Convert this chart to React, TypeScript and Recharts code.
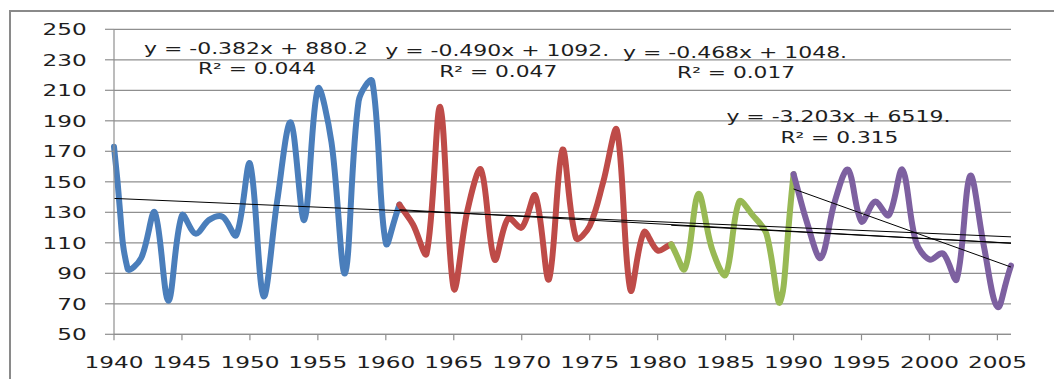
import React from 'react';
import { LineChart, Line, XAxis, YAxis, CartesianGrid, ReferenceDot } from 'recharts';

// ---- data ----
const blueYears = [1940, 1941, 1942, 1943, 1944, 1945, 1946, 1947, 1948, 1949, 1950, 1951, 1952, 1953, 1954, 1955, 1956, 1957, 1958, 1959, 1960, 1961];
const blueValues = [173, 93, 100, 130, 72, 128, 116, 125, 127, 115, 162, 75, 137, 189, 125, 211, 176, 90, 203, 216, 110, 135];

const redYears = [1961, 1962, 1963, 1964, 1965, 1966, 1967, 1968, 1969, 1970, 1971, 1972, 1973, 1974, 1975, 1976, 1977, 1978, 1979, 1980, 1981];
const redValues = [135, 122, 103, 199, 80, 131, 158, 99, 126, 120, 141, 86, 171, 113, 121, 150, 184, 79, 117, 105, 109];

const greenYears = [1981, 1982, 1983, 1984, 1985, 1986, 1987, 1988, 1989, 1990];
const greenValues = [109, 93, 142, 106, 89, 137, 128, 116, 71, 155];

const purpleYears = [1990, 1991, 1992, 1993, 1994, 1995, 1996, 1997, 1998, 1999, 2000, 2001, 2002, 2003, 2004, 2005, 2006];
const purpleValues = [155, 123, 100, 136, 158, 124, 137, 128, 158, 111, 99, 103, 86, 154, 108, 68, 95];

// trend lines (end points)
const trendBlueYears = [1940, 2006];
const trendBlueValues = [139.1, 113.9];
const trendRedYears = [1961, 2006];
const trendRedValues = [131.7, 109.7];
const trendGreenYears = [1981, 2006];
const trendGreenValues = [121.5, 109.8];
const trendPurpleYears = [1990, 2006];
const trendPurpleValues = [145.3, 94.1];

const xTicks = [1940, 1945, 1950, 1955, 1960, 1965, 1970, 1975, 1980, 1985, 1990, 1995, 2000, 2005];
const yTicks = [50, 70, 90, 110, 130, 150, 170, 190, 210, 230, 250];

const annEquations = ['y = -0.382x + 880.2', 'y = -0.490x + 1092.', 'y = -0.468x + 1048.', 'y = -3.203x + 6519.'];
const annR2 = ['R² = 0.044', 'R² = 0.047', 'R² = 0.017', 'R² = 0.315'];
const annYears = [1950.45, 1968.2, 1985.7, 1993.3];
const annValues = [237.9, 236.4, 235.3, 193.1];

const zip = (xs: number[], vs: number[]) => xs.map((year, i) => ({ year, v: vs[i] }));

const blueData = zip(blueYears, blueValues);
const redData = zip(redYears, redValues);
const greenData = zip(greenYears, greenValues);
const purpleData = zip(purpleYears, purpleValues);

// Excel-like smoothed line: Bezier with tangents parallel to neighbours,
// control distances weighted by chord length (screen space)
const excelSmooth = (context: any) => {
  let pts: number[][] = [];
  const dist = (a: number[], b: number[]) => Math.hypot(b[0] - a[0], b[1] - a[1]);
  return {
    areaStart() {},
    areaEnd() {},
    lineStart() {
      pts = [];
    },
    point(x: number, y: number) {
      pts.push([+x, +y]);
    },
    lineEnd() {
      const n = pts.length;
      if (!n) return;
      context.moveTo(pts[0][0], pts[0][1]);
      const t = 1 / 3;
      for (let i = 0; i < n - 1; i++) {
        const p0 = pts[Math.max(i - 1, 0)];
        const p1 = pts[i];
        const p2 = pts[i + 1];
        const p3 = pts[Math.min(i + 2, n - 1)];
        const d01 = dist(p0, p1);
        const d12 = dist(p1, p2);
        const d23 = dist(p2, p3);
        const f1 = d01 + d12 > 0 ? (d12 / (d01 + d12)) * t * (i === 0 ? 2 : 1) : 0;
        const f2 = d12 + d23 > 0 ? (d12 / (d12 + d23)) * t * (i + 2 > n - 1 ? 2 : 1) : 0;
        context.bezierCurveTo(
          p1[0] + (p2[0] - p0[0]) * f1,
          p1[1] + (p2[1] - p0[1]) * f1,
          p2[0] - (p3[0] - p1[0]) * f2,
          p2[1] - (p3[1] - p1[1]) * f2,
          p2[0],
          p2[1]
        );
      }
    },
  };
};

const FONT = '"DejaVu Sans", Verdana, sans-serif';
const TEXT = '#1e1e1e';
const GRID = '#8f8f8f';

const XTick = (props: any) => {
  const { x, y, payload } = props;
  return (
    <text x={x} y={y + 26} textAnchor="middle" fontFamily={FONT} fontSize={16} fill={TEXT} textLength={59} lengthAdjust="spacingAndGlyphs">
      {payload.value}
    </text>
  );
};

const YTick = (props: any) => {
  const { x, y, payload } = props;
  const s = String(payload.value);
  return (
    <text x={x} y={y + 5.8} textAnchor="end" fontFamily={FONT} fontSize={16} fill={TEXT} textLength={s.length * 14.7} lengthAdjust="spacingAndGlyphs">
      {s}
    </text>
  );
};

const Ann = (props: any) => {
  const { viewBox, eq, r2 } = props;
  const cx = viewBox.x + (viewBox.width || 0) / 2;
  const cy = viewBox.y + (viewBox.height || 0) / 2;
  return (
    <g>
      <text x={cx} y={cy + 5.8} textAnchor="middle" fontFamily={FONT} fontSize={16} fill={TEXT} textLength={224} lengthAdjust="spacingAndGlyphs">
        {eq}
      </text>
      <text x={cx + 1} y={cy + 5.8 + 20.8} textAnchor="middle" fontFamily={FONT} fontSize={16} fill={TEXT} textLength={118} lengthAdjust="spacingAndGlyphs">
        {r2}
      </text>
    </g>
  );
};

const seriesColors = ['#4a7ebb', '#be4b48', '#98b954', '#7d60a0'];

export default function App() {
  const series = [blueData, redData, greenData, purpleData];
  const trends = [
    zip(trendBlueYears, trendBlueValues),
    zip(trendRedYears, trendRedValues),
    zip(trendGreenYears, trendGreenValues),
    zip(trendPurpleYears, trendPurpleValues),
  ];
  return (
    <div style={{ position: 'relative', width: 1046, height: 371 }}>
      <div
        style={{
          position: 'absolute',
          left: 1,
          top: 2,
          right: -20,
          bottom: -20,
          borderTop: '2px solid #8a8a8a',
          borderLeft: '2px solid #8a8a8a',
          pointerEvents: 'none',
          boxSizing: 'border-box',
        }}
      />
      <div style={{ position: 'absolute', left: 0, top: 0 }}>
        <LineChart width={1046} height={371} margin={{ top: 21.3, right: 43, bottom: 4.7, left: 0 }}>
          <CartesianGrid horizontal vertical={false} stroke={GRID} strokeWidth={1.2} />
          <XAxis
            dataKey="year"
            type="number"
            domain={[1940, 2006]}
            ticks={xTicks}
            interval={0}
            height={40}
            tickSize={6}
            tickMargin={2}
            axisLine={{ stroke: GRID, strokeWidth: 1.2 }}
            tickLine={{ stroke: GRID, strokeWidth: 1.2 }}
            tick={<XTick />}
          />
          <YAxis
            type="number"
            domain={[50, 250]}
            ticks={yTicks}
            interval={0}
            width={106}
            tickSize={9}
            tickMargin={18.3}
            axisLine={{ stroke: GRID, strokeWidth: 1.2 }}
            tickLine={{ stroke: GRID, strokeWidth: 1.2 }}
            tick={<YTick />}
          />
          {series.map((d, i) => (
            <Line
              key={'s' + i}
              data={d}
              dataKey="v"
              type={excelSmooth as any}
              stroke={seriesColors[i]}
              strokeWidth={6}
              dot={false}
              activeDot={false}
              isAnimationActive={false}
              strokeLinecap="round"
              strokeLinejoin="round"
            />
          ))}
          {trends.map((d, i) => (
            <Line
              key={'t' + i}
              data={d}
              dataKey="v"
              type="linear"
              stroke="#000"
              strokeWidth={1}
              dot={false}
              activeDot={false}
              isAnimationActive={false}
            />
          ))}
          {annYears.map((yr, i) => (
            <ReferenceDot
              key={'a' + i}
              x={yr}
              y={annValues[i]}
              r={1}
              fill="none"
              stroke="none"
              label={<Ann eq={annEquations[i]} r2={annR2[i]} />}
            />
          ))}
        </LineChart>
      </div>
    </div>
  );
}
